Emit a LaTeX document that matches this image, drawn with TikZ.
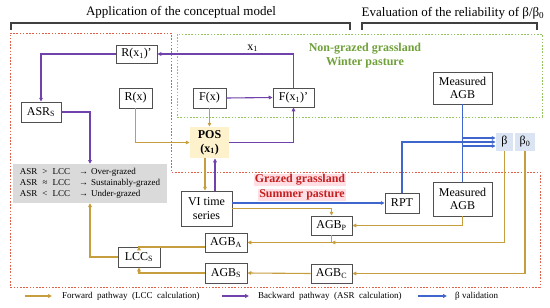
\documentclass[tikz,border=0pt]{standalone}
\usepackage{fontspec}
\setmainfont{Liberation Serif}
\usetikzlibrary{arrows.meta}
\definecolor{fwc}{RGB}{198,158,62}
\definecolor{bwc}{RGB}{112,66,172}
\definecolor{blc}{RGB}{62,102,204}
\definecolor{boxc}{RGB}{80,80,80}
\definecolor{redc}{RGB}{196,32,32}
\definecolor{redline}{RGB}{222,96,72}
\definecolor{greenc}{RGB}{112,160,58}
\definecolor{greenline}{RGB}{150,196,96}
\definecolor{posfill}{RGB}{253,242,204}
\definecolor{grayfill}{RGB}{218,218,218}
\definecolor{betafill}{RGB}{219,228,242}
\definecolor{pinkfill}{RGB}{255,222,228}
\tikzset{
  box/.style={draw=boxc, line width=0.9pt, inner sep=0pt, align=center,
    font=\fontsize{12}{13.5}\selectfont},
  conn/.style={line width=1.1pt, -{Triangle[length=3.8pt,width=3.6pt]}},
  fw/.style={conn, draw=fwc},
  bw/.style={conn, draw=bwc},
  bl/.style={conn, draw=blc},
  bracket/.style={draw=black!75, line width=1.2pt},
  title/.style={font=\fontsize{13}{15}\selectfont},
  legtext/.style={font=\fontsize{9}{11}\selectfont, anchor=west, inner sep=0pt},
  regtext/.style={font=\bfseries\fontsize{12}{13.5}\selectfont, inner sep=0.8pt}
}
\begin{document}
\begin{tikzpicture}[x=1pt,y=-1pt]
\useasboundingbox (0,0) rectangle (550,308);

% titles and brackets
\node[title] (t1) at (181,12) {Application of the conceptual model};
\node[title] (t2) at (453,13) {Evaluation of the reliability of β/β\textsubscript{0}};
\draw[bracket] (11,30) -- (11,23) -- (350,23) -- (350,30);
\draw[bracket] (362,30) -- (362,23) -- (537,23) -- (537,30);

% regions
\draw[draw=redline, line width=0.9pt, dash pattern=on 1.6pt off 1.6pt]
  (10,33) -- (171,33) -- (171,172) -- (540,172) -- (540,287) -- (10,287) -- cycle;
\draw[draw=greenline, line width=0.9pt, dash pattern=on 1.6pt off 1.6pt]
  (177,34) rectangle (542,117);

\node[regtext, text=greenc] (ng1) at (365,49) {Non-grazed grassland};
\node[regtext, text=greenc] (ng2) at (365,63) {Winter pasture};
\node[regtext, text=redc, fill=pinkfill] (g1) at (300,180) {Grazed grassland};
\node[regtext, text=redc, fill=pinkfill] (g2) at (302,195) {Summer pasture};

% nodes
\node[box, minimum width=41pt, minimum height=18pt] (Rx1p) at (136.5,54) {R(x\textsubscript{1})'};
\node[box, minimum width=33pt, minimum height=20pt] (Rx) at (135.5,98) {R(x)};
\node[box, minimum width=33pt, minimum height=20pt] (Fx) at (209.5,98) {F(x)};
\node[box, minimum width=41pt, minimum height=19pt] (Fx1p) at (293.5,97.5) {F(x\textsubscript{1})'};
\node[box, minimum width=40pt, minimum height=20pt] (ASRs) at (41,112) {ASR\textsubscript{S}};
\node[box, draw=none, fill=posfill, minimum width=39pt, minimum height=31pt,
  font=\bfseries\fontsize{12}{14}\selectfont] (POS) at (209.5,142.5) {POS\\(x\textsubscript{1})};
\node[fill=grayfill, minimum width=154pt, minimum height=39pt, inner sep=0pt,
  font=\fontsize{9}{11}\selectfont] (gray) at (90,183.5)
  {\begin{tabular}{@{}l@{\hspace{5pt}}c@{\hspace{5pt}}l@{\hspace{9pt}}c@{\hspace{3pt}}l@{}}
   ASR & > & LCC & → & Over-grazed\\
   ASR & ≈ & LCC & → & Sustainably-grazed\\
   ASR & < & LCC & → & Under-grazed
   \end{tabular}\hspace{6pt}};
\node[box, minimum width=51pt, minimum height=35pt] (VI) at (206.5,208.5) {VI time\\series};
\node[box, minimum width=42pt, minimum height=19pt] (AGBA) at (226,242.5) {AGB\textsubscript{A}};
\node[box, minimum width=42pt, minimum height=20pt] (LCCs) at (139,257) {LCC\textsubscript{S}};
\node[box, minimum width=42pt, minimum height=20pt] (AGBs) at (226,273) {AGB\textsubscript{S}};
\node[box, minimum width=41pt, minimum height=19pt] (AGBP) at (331.5,225.5) {AGB\textsubscript{P}};
\node[box, minimum width=41pt, minimum height=19pt] (AGBC) at (331.5,273.5) {AGB\textsubscript{C}};
\node[box, minimum width=34pt, minimum height=20pt] (RPT) at (402,203) {RPT};
\node[box, minimum width=59pt, minimum height=34pt] (MAGB2) at (462.5,199) {Measured\\AGB};
\node[box, minimum width=59pt, minimum height=32pt] (MAGB1) at (462.5,88) {Measured\\AGB};
\node[box, draw=none, fill=betafill, minimum width=17pt, minimum height=18pt] (beta) at (504.5,142) {β};
\node[box, draw=none, fill=betafill, minimum width=20pt, minimum height=18pt] (beta0) at (525,142) {β\textsubscript{0}};

% backward pathway (purple)
\draw[bw] (Fx.east) -- (Fx1p.west);
\draw[bw] ([xshift=5.5pt]POS.south |- VI.north) -- ([xshift=5.5pt]POS.south);
\draw[bw] (POS.east) -| (Fx1p.south);
\draw[bw] (Fx1p.north) |- (Rx1p.east)
  node[pos=0.65, above, inner sep=1.5pt, font=\fontsize{12}{13.5}\selectfont] (x1lab) {x\textsubscript{1}};
\draw[bw] (Rx1p.west) -| (ASRs.north);
\draw[bw] (ASRs.east) -| (gray.north);

% forward pathway (orange)
\draw[fw] (Fx.south) -- (POS.north);
\draw[fw] (Rx.south) |- (POS.west);
\draw[fw] ([xshift=-4.5pt]POS.south) -- ([xshift=-4.5pt]POS.south |- VI.north);
\draw[fw] (VI.east) -| (AGBP.north);
\draw[fw] (beta.south) |- (AGBP.south |- AGBA.east);
\draw[fw] (AGBP.south) |- (AGBA.east);
\draw[fw] (MAGB2.south) |- (AGBP.east);
\draw[fw] (beta0.south) |- (AGBC.east);
\draw[fw] (AGBC.west) -- (AGBs.east);
\draw[fw] ([yshift=-4.5pt]AGBA.west) -| (LCCs.north);
\draw[fw] (AGBs.west) -| (LCCs.south);
\draw[fw] (LCCs.west) -| (gray.south);

% beta validation (blue)
\draw[bl] (VI.east |- RPT.west) -- (RPT.west);
\draw[bl] (MAGB1.south) |- ([yshift=-4pt]beta.west);
\draw[bl] (RPT.north) |- (beta.west);
\draw[bl] (MAGB2.north) |- ([yshift=4pt]beta.west);

% legend
\coordinate (la1) at (25,296); \coordinate (lb1) at (52,296);
\coordinate (la2) at (222,296); \coordinate (lb2) at (249,296);
\coordinate (la3) at (418,296); \coordinate (lb3) at (447,296);
\draw[fw] (la1) -- (lb1);
\draw[bw] (la2) -- (lb2);
\draw[bl] (la3) -- (lb3);
\node[legtext] (lt1) at (62,296) {Forward\ \ pathway\ \ (LCC\ \ calculation)};
\node[legtext] (lt2) at (258,296) {Backward\ \ pathway\ \ (ASR\ \ calculation)};
\node[legtext] (lt3) at (455,296) {β validation};
\end{tikzpicture}
\end{document}
